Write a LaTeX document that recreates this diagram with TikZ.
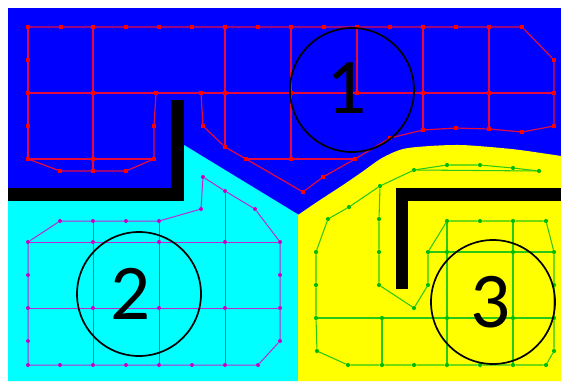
\documentclass[tikz,border=0pt]{standalone}
\usepackage{fontspec}
\newfontfamily\digitfont{Carlito}
\pgfdeclarelayer{regions}
\pgfdeclarelayer{edges}
\pgfsetlayers{regions,edges,main}
\definecolor{regblue}{RGB}{0,0,255}
\definecolor{regcyan}{RGB}{0,255,255}
\definecolor{regyellow}{RGB}{255,255,0}
\definecolor{redn}{RGB}{255,0,0}
\definecolor{redl}{RGB}{230,10,60}
\definecolor{magn}{RGB}{200,0,200}
\definecolor{magl}{RGB}{190,40,210}
\definecolor{grnn}{RGB}{0,190,0}
\definecolor{grnl}{RGB}{40,200,20}
\begin{document}
\begin{tikzpicture}[x=1pt,y=-1pt,
  rn/.style={rectangle,fill=redn,inner sep=0pt,minimum size=3.9pt},
  mn/.style={circle,fill=magn,inner sep=0pt,minimum size=4pt},
  gn/.style={circle,fill=grnn,inner sep=0pt,minimum size=4.2pt},
  rl/.style={draw=redl,line width=1.2pt},
  ml/.style={draw=magl,line width=1pt},
  gl/.style={draw=grnl,line width=1.05pt},
  ring/.style={draw=black,line width=1.7pt,circle,minimum size=124pt,inner sep=0pt},
  digit/.style={font=\digitfont\fontsize{79}{79}\selectfont,inner sep=0pt,text=black}]
\useasboundingbox (0,0) rectangle (561,381);
\begin{pgfonlayer}{regions}
\fill[white] (0,0) rectangle (561,381);
\fill[regblue] (8,8) rectangle (561,381);
\fill[regcyan] (8,201) -- (184,201) -- (184,145) -- (299,215) -- (298,381) -- (8,381) -- cycle;
\fill[regyellow] plot[smooth,tension=0.5] coordinates {(298,215) (317,202) (343,185) (362,172) (382,158) (403,149) (430,146) (460,145) (490,147) (520,150) (561,156)} -- (561,381) -- (298,381) -- cycle;
\fill[black] (8,188) rectangle (184,201);
\fill[black] (171,100) rectangle (184,201);
\fill[black] (396,188) rectangle (561,201);
\fill[black] (396,188) rectangle (408,289);
\end{pgfonlayer}
% ---------- region 1 (red) ----------
\foreach \n/\x in {1/28,2/61,3/93,4/126,5/159,6/192,7/225,8/258,9/291,10/324,11/357,12/390,13/423,14/456,15/489,16/522}
  {\node[rn] (ra\n) at (\x,27) {};}
\node[rn] (rb1) at (28,60) {};
\node[rn] (rb2) at (554,60) {};
\foreach \n/\x in {1/28,2/93,3/156,4/201,5/225,6/291,7/357,8/423,9/489,10/554}
  {\node[rn] (rc\n) at (\x,93) {};}
\node[rn] (rd1) at (28,126) {};
\node[rn] (rd2) at (154,126) {};
\node[rn] (rd3) at (203,126) {};
\node[rn] (rd4) at (554,126) {};
\node[rn] (re1) at (28,159) {};
\node[rn] (re2) at (93,159) {};
\node[rn] (re3) at (154,159) {};
\node[rn] (re4) at (225,147) {};
\node[rn] (re5) at (246,159) {};
\node[rn] (re6) at (291,159) {};
\node[rn] (re7) at (355,159) {};
\node[rn] (rf1) at (60,171) {};
\node[rn] (rf2) at (93,171) {};
\node[rn] (rf3) at (126,171) {};
\node[rn] (rg1) at (303,192) {};
\node[rn] (rg2) at (323,177) {};
\node[rn] (rg3) at (390,138) {};
\node[rn] (rg4) at (423,130) {};
\node[rn] (rg5) at (456,128) {};
\node[rn] (rg6) at (489,129) {};
\node[rn] (rg7) at (522,132) {};
% ---------- region 2 (magenta) ----------
\foreach \n/\x in {1/60,2/93,3/126,4/159}
  {\node[mn] (ma\n) at (\x,221) {};}
\node[mn] (mb1) at (201,209) {};
\node[mn] (mb2) at (203,177) {};
\node[mn] (mb3) at (225,191) {};
\node[mn] (mb4) at (255,209) {};
\foreach \n/\x in {1/28,2/93,3/159,4/225,5/280}
  {\node[mn] (mc\n) at (\x,242) {};}
\node[mn] (md1) at (28,275) {};
\node[mn] (md2) at (280,275) {};
\foreach \n/\x in {1/28,2/93,3/159,4/225,5/280}
  {\node[mn] (me\n) at (\x,308) {};}
\node[mn] (mf1) at (28,341) {};
\node[mn] (mf2) at (280,341) {};
\foreach \n/\x in {1/28,2/60,3/93,4/126,5/159,6/192,7/225,8/258}
  {\node[mn] (mg\n) at (\x,365) {};}
% ---------- region 3 (green) ----------
\node[gn] (ga1) at (349,207) {};
\node[gn] (ga2) at (380,186) {};
\node[gn] (ga3) at (414,170) {};
\node[gn] (ga4) at (447,165) {};
\node[gn] (ga5) at (480,165) {};
\node[gn] (ga6) at (513,168) {};
\node[gn] (ga7) at (539,171) {};
\node[gn] (gb1) at (328,219) {};
\node[gn] (gb2) at (316,252) {};
\node[gn] (gb3) at (316,285) {};
\node[gn] (gb4) at (316,318) {};
\node[gn] (gb5) at (317,351) {};
\foreach \n/\x in {1/348,2/382,3/414,4/447,5/480,6/513,7/546}
  {\node[gn] (gc\n) at (\x,365) {};}
\node[gn] (gd1) at (554,351) {};
\node[gn] (gd2) at (554,318) {};
\node[gn] (gd3) at (554,285) {};
\node[gn] (gd4) at (554,252) {};
\node[gn] (gd5) at (546,221) {};
\node[gn] (ge1) at (447,221) {};
\node[gn] (ge2) at (480,221) {};
\node[gn] (ge3) at (513,221) {};
\node[gn] (gf1) at (428,252) {};
\node[gn] (gf2) at (428,285) {};
\node[gn] (gf3) at (414,308) {};
\node[gn] (gf4) at (379,285) {};
\node[gn] (gf5) at (379,252) {};
\node[gn] (gf6) at (379,219) {};
\node[gn] (gg1) at (447,252) {};
\node[gn] (gg2) at (513,252) {};
\node[gn] (gh1) at (382,318) {};
\node[gn] (gh2) at (447,318) {};
\node[gn] (gh3) at (513,318) {};
% ---------- edges ----------
\begin{pgfonlayer}{edges}
\draw[rl] (ra1) -- (ra2) -- (ra3) -- (ra4) -- (ra5) -- (ra6) -- (ra7) -- (ra8) -- (ra9) -- (ra10) -- (ra11) -- (ra12) -- (ra13) -- (ra14) -- (ra15) -- (ra16) -- (rb2) -- (rc10) -- (rd4) -- (rg7) -- (rg6) -- (rg5) -- (rg4) -- (rg3) -- (re7) -- (rg2) -- (rg1) -- (re5) -- (re4) -- (rd3) -- (rc4);
\draw[rl] (rc1) -- (rc2) -- (rc3) -- (rc4) -- (rc5) -- (rc6) -- (rc7) -- (rc8) -- (rc9) -- (rc10);
\draw[rl] (ra1) -- (rb1) -- (rc1) -- (rd1) -- (re1);
\draw[rl] (re1) -- (re2) -- (re3);
\draw[rl] (re1) -- (rf1) -- (rf2) -- (rf3) -- (re3) -- (rd2) -- (rc3);
\draw[rl] (ra3) -- (rc2) -- (re2) -- (rf2);
\draw[rl] (ra7) -- (rc5) -- (re4);
\draw[rl] (ra9) -- (rc6) -- (re6);
\draw[rl] (ra11) -- (rc7);
\draw[rl] (ra13) -- (rc8) -- (rg4);
\draw[rl] (ra15) -- (rc9) -- (rg6);
\draw[rl] (re5) -- (re6) -- (re7);
\draw[ml] (mc1) -- (ma1) -- (ma2) -- (ma3) -- (ma4) -- (mb1) -- (mb2) -- (mb3) -- (mb4) -- (mc5) -- (md2) -- (me5) -- (mf2) -- (mg8) -- (mg7) -- (mg6) -- (mg5) -- (mg4) -- (mg3) -- (mg2) -- (mg1) -- (mf1) -- (me1) -- (md1) -- (mc1);
\draw[ml] (mc1) -- (mc2) -- (mc3) -- (mc4) -- (mc5);
\draw[ml] (me1) -- (me2) -- (me3) -- (me4) -- (me5);
\draw[ml] (ma2) -- (mc2) -- (me2) -- (mg3);
\draw[ml] (ma4) -- (mc3) -- (me3) -- (mg5);
\draw[ml] (mb3) -- (mc4) -- (me4) -- (mg7);
\draw[gl] (ga1) -- (ga2) -- (ga3) -- (ga4) -- (ga5) -- (ga6) -- (ga7);
\draw[gl] (ga3) -- (ga7);
\draw[gl] (ga1) -- (gb1) -- (gb2) -- (gb3) -- (gb4) -- (gb5) -- (gc1) -- (gc2) -- (gc3) -- (gc4) -- (gc5) -- (gc6) -- (gc7) -- (gd1) -- (gd2) -- (gd3) -- (gd4) -- (gd5) -- (ge3) -- (ge2) -- (ge1) -- (gf1) -- (gf2) -- (gf3) -- (gf4) -- (gf5) -- (gf6) -- (ga2);
\draw[gl] (gf1) -- (gg1) -- (gg2) -- (gd4);
\draw[gl] (gb4) -- (gh1) -- (gh2) -- (gh3) -- (gd2);
\draw[gl] (ge1) -- (gg1) -- (gh2) -- (gc4);
\draw[gl] (ge3) -- (gg2) -- (gh3) -- (gc6);
\draw[gl] (gh1) -- (gc2);
\end{pgfonlayer}
% ---------- circles and labels ----------
\node[ring] (c1) at (352,90) {};
\node[ring] (c2) at (139,294) {};
\node[ring] (c3) at (493,302) {};
\node[digit] (t1) at (347,88) {1};
\node[digit] (t2) at (131,294) {2};
\node[digit] (t3) at (491,302) {3};
\end{tikzpicture}
\end{document}
